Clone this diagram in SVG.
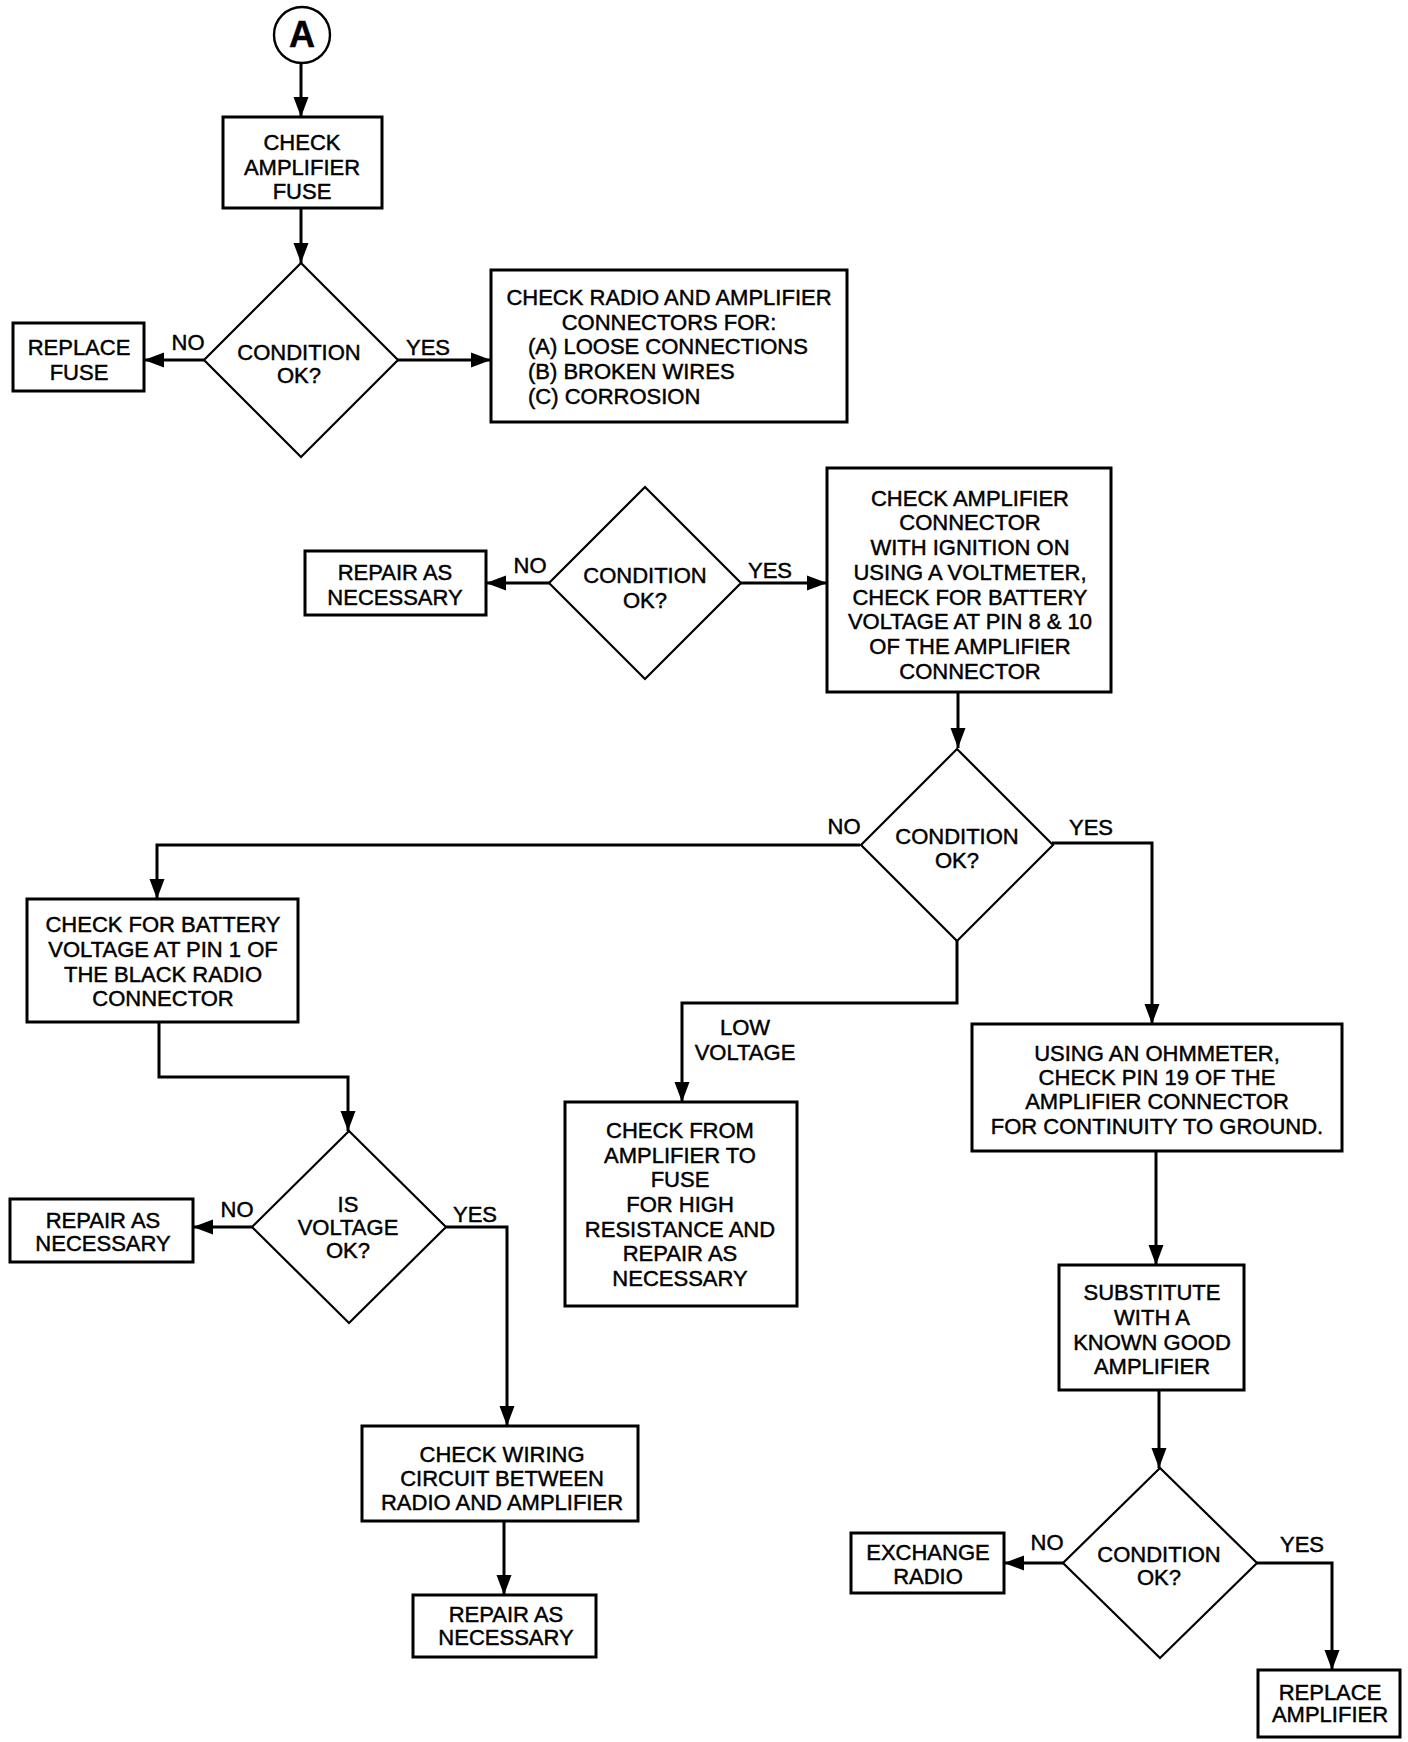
<svg xmlns="http://www.w3.org/2000/svg" width="1408" height="1742" viewBox="0 0 1408 1742">
<defs>
<marker id="ah" markerUnits="userSpaceOnUse" markerWidth="22" markerHeight="16" refX="20" refY="8" orient="auto">
<path d="M0,0.5 L20,8 L0,15.5 z" fill="#000"/>
</marker>
<style>
.b{fill:#fff;stroke:#000;stroke-width:3}
.d{fill:#fff;stroke:#000;stroke-width:2.2}
.c{fill:none;stroke:#000;stroke-width:3;marker-end:url(#ah)}
text{font-family:"Liberation Sans",Arial,sans-serif;font-size:22px;fill:#000;stroke:#000;stroke-width:0.45}
.m{text-anchor:middle}
</style>
</defs>
<rect width="1408" height="1742" fill="#fff"/>
<g id="connectors">
<path class="c" d="M301,63 L301,117"/>
<path class="c" d="M301,208 L301,263"/>
<path class="c" d="M204,360 L144,360"/>
<path class="c" d="M396,360 L491,360"/>
<path class="c" d="M549,583 L486,583"/>
<path class="c" d="M741,583 L827,583"/>
<path class="c" d="M958,692 L958,748"/>
<path class="c" d="M860,845 L157,845 L157,899"/>
<path class="c" d="M1052,843 L1152,843 L1152,1024"/>
<path class="c" d="M957,940 L957,1003 L682,1003 L682,1102"/>
<path class="c" d="M159,1022 L159,1077 L348,1077 L348,1131"/>
<path class="c" d="M252,1227 L193,1227"/>
<path class="c" d="M445,1227 L507,1227 L507,1426"/>
<path class="c" d="M504,1521 L504,1595"/>
<path class="c" d="M1156,1151 L1156,1265"/>
<path class="c" d="M1159,1390 L1159,1468"/>
<path class="c" d="M1063,1563 L1004,1563"/>
<path class="c" d="M1257,1563 L1332,1563 L1332,1670"/>
<text class="m" x="188" y="350">NO</text>
<text class="m" x="428" y="355">YES</text>
<text class="m" x="530" y="573">NO</text>
<text class="m" x="770" y="578">YES</text>
<text class="m" x="844" y="834">NO</text>
<text class="m" x="1091" y="835">YES</text>
<text class="m" x="745" y="1035">LOW</text>
<text class="m" x="745" y="1060">VOLTAGE</text>
<text class="m" x="237" y="1217">NO</text>
<text class="m" x="475" y="1222">YES</text>
<text class="m" x="1047" y="1550">NO</text>
<text class="m" x="1302" y="1552">YES</text>
</g>
<g id="start">
<circle cx="302" cy="35" r="28" fill="#fff" stroke="#000" stroke-width="2.4"/>
<text class="m" x="302" y="47" style="font-size:36px;font-weight:bold">A</text>
</g>
<g id="check-fuse">
<rect class="b" x="223" y="117" width="159" height="91"/>
<text class="m" x="302" y="150">CHECK</text>
<text class="m" x="302" y="175">AMPLIFIER</text>
<text class="m" x="302" y="199">FUSE</text>
</g>
<g id="cond1">
<path class="d" d="M301,263 L398,360 L301,457 L204,360 z"/>
<text class="m" x="299" y="360">CONDITION</text>
<text class="m" x="299" y="383">OK?</text>
</g>
<g id="replace-fuse">
<rect class="b" x="13" y="323" width="131" height="68"/>
<text class="m" x="79" y="355">REPLACE</text>
<text class="m" x="79" y="380">FUSE</text>
</g>
<g id="check-connectors">
<rect class="b" x="491" y="270" width="356" height="152"/>
<text class="m" x="669" y="305">CHECK RADIO AND AMPLIFIER</text>
<text class="m" x="669" y="330">CONNECTORS FOR:</text>
<text x="528" y="354">(A) LOOSE CONNECTIONS</text>
<text x="528" y="379">(B) BROKEN WIRES</text>
<text x="528" y="404">(C) CORROSION</text>
</g>
<g id="repair1">
<rect class="b" x="305" y="551" width="181" height="64"/>
<text class="m" x="395" y="580">REPAIR AS</text>
<text class="m" x="395" y="605">NECESSARY</text>
</g>
<g id="cond2">
<path class="d" d="M645,487 L741,583 L645,679 L549,583 z"/>
<text class="m" x="645" y="583">CONDITION</text>
<text class="m" x="645" y="608">OK?</text>
</g>
<g id="check-amp-connector">
<rect class="b" x="827" y="468" width="284" height="224"/>
<text class="m" x="970" y="506">CHECK AMPLIFIER</text>
<text class="m" x="970" y="530">CONNECTOR</text>
<text class="m" x="970" y="555">WITH IGNITION ON</text>
<text class="m" x="970" y="580">USING A VOLTMETER,</text>
<text class="m" x="970" y="605">CHECK FOR BATTERY</text>
<text class="m" x="970" y="629">VOLTAGE AT PIN 8 &amp; 10</text>
<text class="m" x="970" y="654">OF THE AMPLIFIER</text>
<text class="m" x="970" y="679">CONNECTOR</text>
</g>
<g id="cond3">
<path class="d" d="M957,749 L1053,845 L957,941 L861,845 z"/>
<text class="m" x="957" y="844">CONDITION</text>
<text class="m" x="957" y="868">OK?</text>
</g>
<g id="check-battery">
<rect class="b" x="27" y="899" width="271" height="123"/>
<text class="m" x="163" y="932">CHECK FOR BATTERY</text>
<text class="m" x="163" y="957">VOLTAGE AT PIN 1 OF</text>
<text class="m" x="163" y="982">THE BLACK RADIO</text>
<text class="m" x="163" y="1006">CONNECTOR</text>
</g>
<g id="check-from">
<rect class="b" x="565" y="1102" width="232" height="204"/>
<text class="m" x="680" y="1138">CHECK FROM</text>
<text class="m" x="680" y="1163">AMPLIFIER TO</text>
<text class="m" x="680" y="1187">FUSE</text>
<text class="m" x="680" y="1212">FOR HIGH</text>
<text class="m" x="680" y="1237">RESISTANCE AND</text>
<text class="m" x="680" y="1261">REPAIR AS</text>
<text class="m" x="680" y="1286">NECESSARY</text>
</g>
<g id="ohmmeter">
<rect class="b" x="972" y="1024" width="370" height="127"/>
<text class="m" x="1157" y="1061">USING AN OHMMETER,</text>
<text class="m" x="1157" y="1085">CHECK PIN 19 OF THE</text>
<text class="m" x="1157" y="1109">AMPLIFIER CONNECTOR</text>
<text class="m" x="1157" y="1134">FOR CONTINUITY TO GROUND.</text>
</g>
<g id="cond4">
<path class="d" d="M349,1131 L446,1227 L349,1323 L252,1227 z"/>
<text class="m" x="348" y="1212">IS</text>
<text class="m" x="348" y="1235">VOLTAGE</text>
<text class="m" x="348" y="1258">OK?</text>
</g>
<g id="repair2">
<rect class="b" x="10" y="1199" width="183" height="63"/>
<text class="m" x="103" y="1228">REPAIR AS</text>
<text class="m" x="103" y="1251">NECESSARY</text>
</g>
<g id="check-wiring">
<rect class="b" x="362" y="1426" width="276" height="95"/>
<text class="m" x="502" y="1462">CHECK WIRING</text>
<text class="m" x="502" y="1486">CIRCUIT BETWEEN</text>
<text class="m" x="502" y="1510">RADIO AND AMPLIFIER</text>
</g>
<g id="repair3">
<rect class="b" x="413" y="1595" width="183" height="62"/>
<text class="m" x="506" y="1622">REPAIR AS</text>
<text class="m" x="506" y="1645">NECESSARY</text>
</g>
<g id="substitute">
<rect class="b" x="1059" y="1265" width="185" height="125"/>
<text class="m" x="1152" y="1300">SUBSTITUTE</text>
<text class="m" x="1152" y="1325">WITH A</text>
<text class="m" x="1152" y="1350">KNOWN GOOD</text>
<text class="m" x="1152" y="1374">AMPLIFIER</text>
</g>
<g id="cond5">
<path class="d" d="M1160,1468 L1257,1563 L1160,1658 L1063,1563 z"/>
<text class="m" x="1159" y="1562">CONDITION</text>
<text class="m" x="1159" y="1585">OK?</text>
</g>
<g id="exchange-radio">
<rect class="b" x="851" y="1533" width="153" height="60"/>
<text class="m" x="928" y="1560">EXCHANGE</text>
<text class="m" x="928" y="1584">RADIO</text>
</g>
<g id="replace-amplifier">
<rect class="b" x="1258" y="1670" width="142" height="67"/>
<text class="m" x="1330" y="1700">REPLACE</text>
<text class="m" x="1330" y="1722">AMPLIFIER</text>
</g>
</svg>
